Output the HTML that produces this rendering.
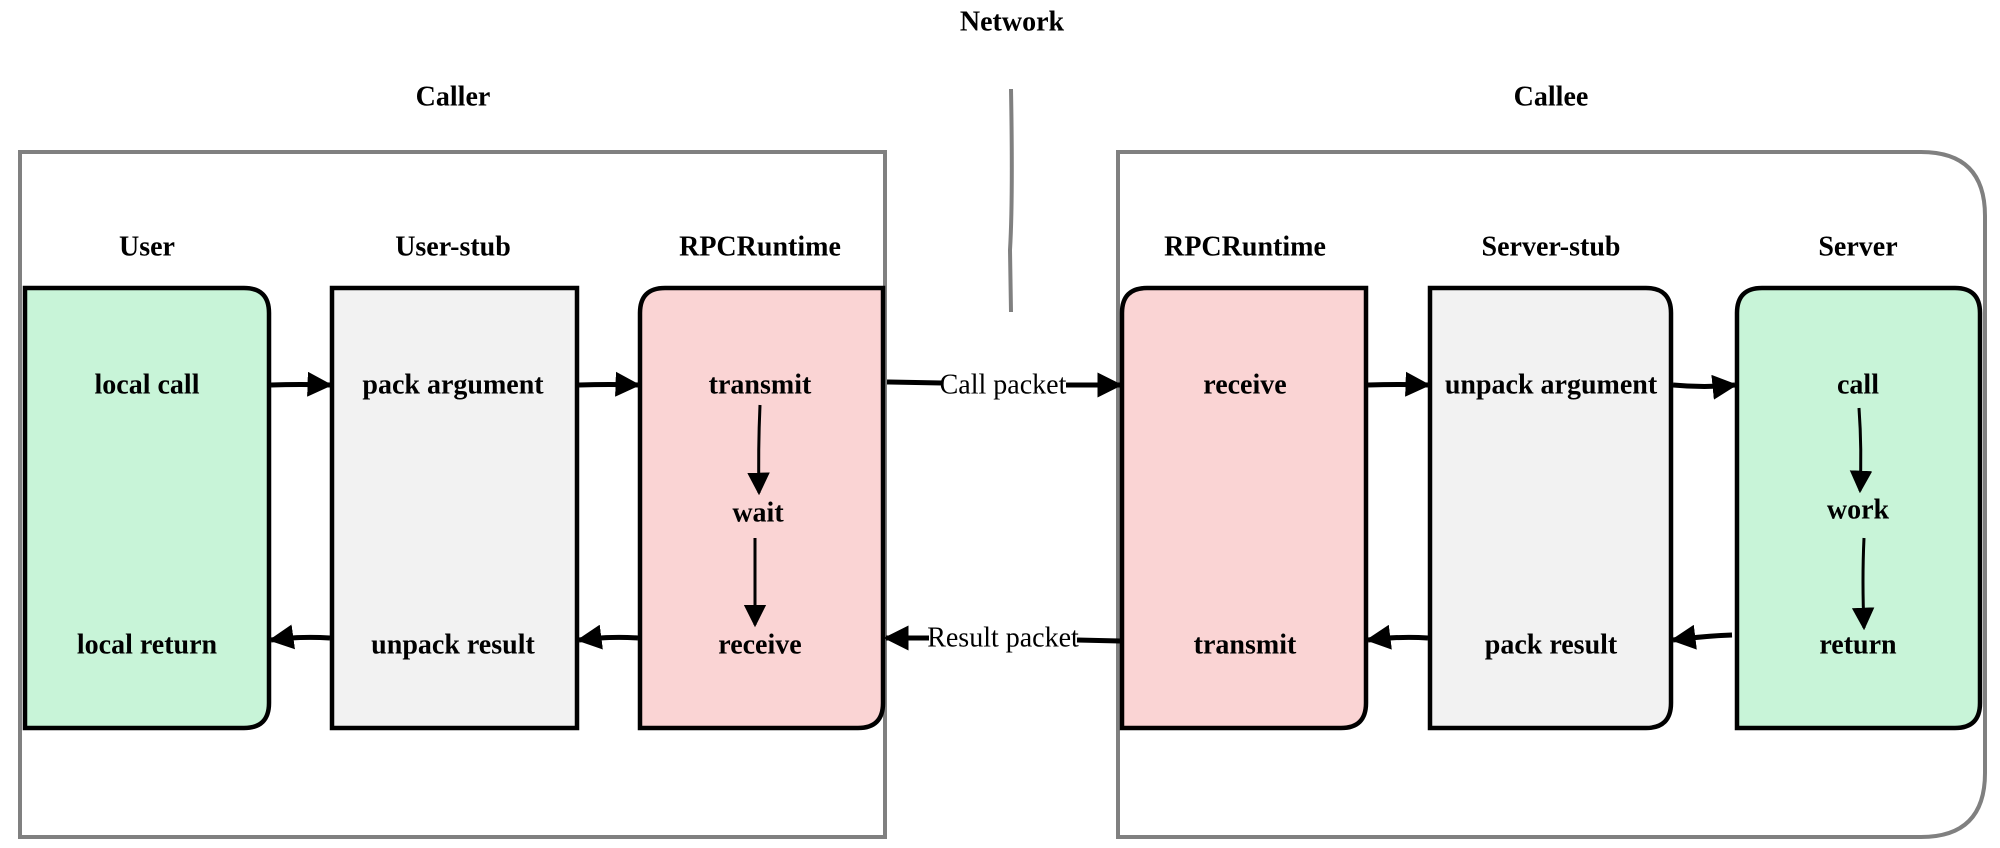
<!DOCTYPE html>
<html><head><meta charset="utf-8"><style>
html,body{margin:0;padding:0;background:#fff;}
svg{display:block;}
text{font-family:"Liberation Serif",serif;font-size:28px;text-anchor:middle;dominant-baseline:central;}
.b{font-weight:bold;}
</style></head><body>
<svg width="2000" height="848" viewBox="0 0 2000 848" xmlns="http://www.w3.org/2000/svg">
<defs>
<marker id="ah" viewBox="0 0 10 10" refX="9" refY="5" markerWidth="5" markerHeight="5" orient="auto-start-reverse" markerUnits="strokeWidth">
<path d="M0,0 L10,5 L0,10 z" fill="#000"/></marker>
<marker id="ah2" viewBox="0 0 10 10" refX="9" refY="5" markerWidth="7.5" markerHeight="7.5" orient="auto" markerUnits="strokeWidth">
<path d="M0,0 L10,5 L0,10 z" fill="#000"/></marker>
</defs>
<rect x="20" y="152" width="865" height="685" fill="none" stroke="#808080" stroke-width="4"/>
<path d="M1118,152 H1921 Q1985,152 1985,216 V773 Q1985,837 1921,837 H1118 Z" fill="none" stroke="#808080" stroke-width="4"/>
<path d="M1011,89 Q1013,200 1010,250 L1011,312" fill="none" stroke="#808080" stroke-width="4"/>
<text class="b" x="1012" y="22">Network</text>
<text class="b" x="453" y="97">Caller</text>
<text class="b" x="1551" y="97">Callee</text>
<text class="b" x="147" y="247">User</text>
<text class="b" x="453" y="247">User-stub</text>
<text class="b" x="760" y="247">RPCRuntime</text>
<text class="b" x="1245" y="247">RPCRuntime</text>
<text class="b" x="1551" y="247">Server-stub</text>
<text class="b" x="1858" y="247">Server</text>
<g stroke="#000" stroke-width="4.5">
<path d="M25,288 H244 Q269,288 269,313 V703 Q269,728 244,728 H25 Z" fill="#c8f4d8"/>
<path d="M332,288 H577 V728 H332 Z" fill="#f2f2f2"/>
<path d="M665,288 H883 V703 Q883,728 858,728 H640 V313 Q640,288 665,288 Z" fill="#fad4d4"/>
<path d="M1147,288 H1366 V703 Q1366,728 1341,728 H1122 V313 Q1122,288 1147,288 Z" fill="#fad4d4"/>
<path d="M1430,288 H1646 Q1671,288 1671,313 V703 Q1671,728 1646,728 H1430 Z" fill="#f2f2f2"/>
<path d="M1762,288 H1955 Q1980,288 1980,313 V703 Q1980,728 1955,728 H1737 V313 Q1737,288 1762,288 Z" fill="#c8f4d8"/>
</g>
<text class="b" x="147" y="385">local call</text>
<text class="b" x="147" y="645">local return</text>
<text class="b" x="453" y="385">pack argument</text>
<text class="b" x="453" y="645">unpack result</text>
<text class="b" x="760" y="385">transmit</text>
<text class="b" x="758" y="513">wait</text>
<text class="b" x="760" y="645">receive</text>
<text class="b" x="1245" y="385">receive</text>
<text class="b" x="1245" y="645">transmit</text>
<text class="b" x="1551" y="385">unpack argument</text>
<text class="b" x="1551" y="645">pack result</text>
<text class="b" x="1858" y="385">call</text>
<text class="b" x="1858" y="510">work</text>
<text class="b" x="1858" y="645">return</text>
<g stroke="#000" stroke-width="5" fill="none" marker-end="url(#ah)">
<path d="M271,385 Q300,384 330,385"/>
<path d="M579,385 Q610,384 638,385"/>
<path d="M1368,385 Q1400,384 1428,385"/>
<path d="M1673,385 Q1705,388 1735,385"/>
<path d="M330,638 Q300,636 271,640"/>
<path d="M638,638 Q610,636 579,640"/>
<path d="M1428,638 Q1400,636 1368,640"/>
<path d="M1732,635 Q1705,636 1673,640"/>
<path d="M1066,385 L1120,385"/>
<path d="M929,638 L886,638"/>
</g>
<g stroke="#000" stroke-width="5" fill="none">
<path d="M887,382 L942,383"/>
<path d="M1077,640 L1120,641"/>
</g>
<text x="1003" y="385">Call packet</text>
<text x="1003" y="638">Result packet</text>
<g stroke="#000" stroke-width="3" fill="none" marker-end="url(#ah2)">
<path d="M760,405 Q758,450 759,493"/>
<path d="M755,538 V625"/>
<path d="M1859,408 Q1862,450 1860,491"/>
<path d="M1864,538 Q1862,580 1864,628"/>
</g>
</svg>
</body></html>
